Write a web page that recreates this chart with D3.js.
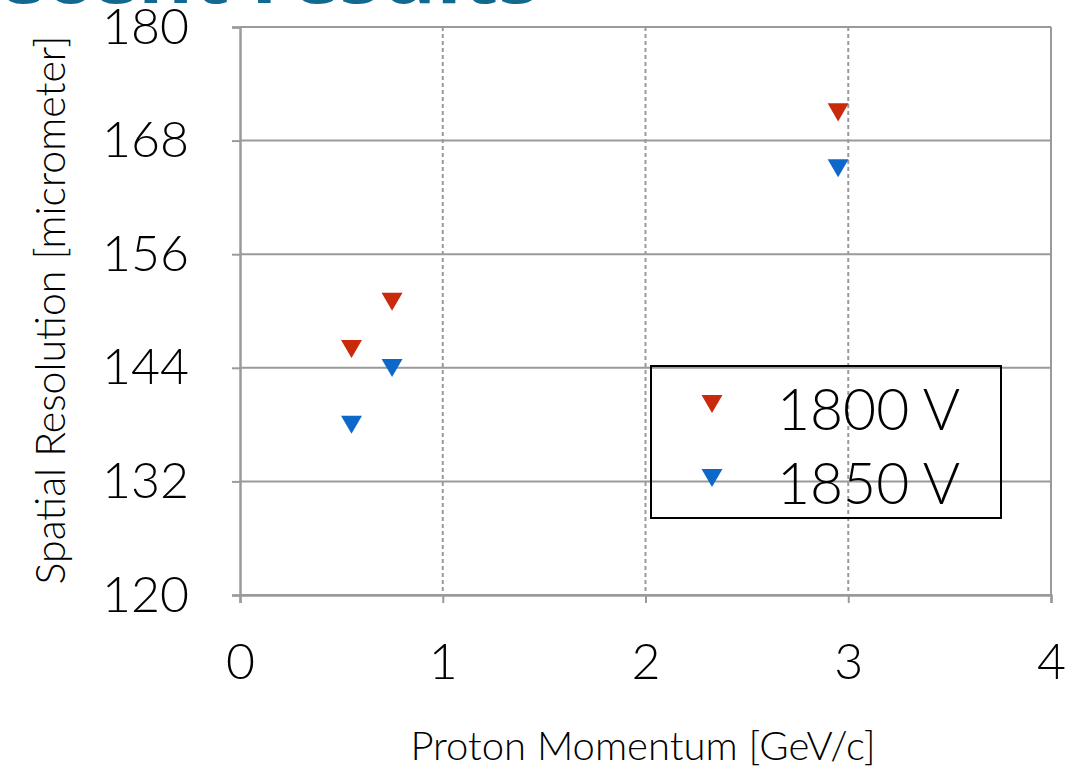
<!DOCTYPE html>
<html>
<head>
<meta charset="utf-8">
<script src="https://cdn.jsdelivr.net/npm/d3@7"></script>
<style>
  html, body { margin: 0; padding: 0; background: #fff; }
  svg { display: block; font-family: "Helvetica Neue", Lato, Roboto, sans-serif; font-weight: 300; }
</style>
</head>
<body>
<svg id="chart" width="1083" height="770"></svg>
<script>
// --- data ---
const momentum   = [0.55, 0.75, 2.95];
const res1800    = [146.3, 151.3, 171.3];
const res1850    = [138.3, 144.3, 165.4];
const seriesName = ['1800 V', '1850 V'];
const seriesCol  = ['#c92a0b', '#0e68c9'];
const xTicks     = [0, 1, 2, 3, 4];
const yTicks     = [120, 132, 144, 156, 168, 180];

const svg = d3.select('#chart');
const x = d3.scaleLinear().domain([0, 4]).range([240, 1051]);
const y = d3.scaleLinear().domain([120, 180]).range([595, 27]);

// cropped slide title
svg.append('text')
  .attr('x', 540).attr('y', 3)
  .attr('text-anchor', 'end')
  .style('font-family', '"Open Sans", Roboto, sans-serif')
  .style('font-weight', 700).style('font-size', '84px')
  .attr('fill', '#11698f')
  .text('Recent results');

const grid = svg.append('g');
// horizontal gridlines (solid)
grid.selectAll('line.h').data(yTicks).join('line')
  .attr('x1', x(0)).attr('x2', x(4))
  .attr('y1', d => y(d)).attr('y2', d => y(d))
  .attr('stroke', '#9a9a9a').attr('stroke-width', 2);
// vertical gridlines (dashed inner, solid right edge)
grid.selectAll('line.v').data(xTicks.slice(1)).join('line')
  .attr('x1', d => x(d)).attr('x2', d => x(d))
  .attr('y1', y(180)).attr('y2', y(120))
  .attr('stroke', '#9a9a9a').attr('stroke-width', 2)
  .attr('stroke-dasharray', d => d === 4 ? null : '4,3');

// axes
const yAxis = svg.append('g').attr('transform', `translate(${x(0)},0)`)
  .call(d3.axisLeft(y).tickValues(yTicks).tickSize(8).tickPadding(43));
const xAxis = svg.append('g').attr('transform', `translate(0,${y(120)})`)
  .call(d3.axisBottom(x).tickValues(xTicks).tickFormat(d3.format('d'))
    .tickSize(8).tickPadding(38));
[yAxis, xAxis].forEach(a => {
  a.select('.domain').attr('stroke', '#9a9a9a').attr('stroke-width', 2.5);
  a.selectAll('.tick line').attr('stroke', '#9a9a9a').attr('stroke-width', 2);
  a.selectAll('text').attr('fill', '#000')
    .style('font-family', '"Helvetica Neue", Lato, Roboto, sans-serif')
    .style('font-weight', 300).style('font-size', '50px');
});
xAxis.selectAll('text').attr('dy', '0.75em');

// axis titles
svg.append('text')
  .attr('x', 643).attr('y', 760).attr('text-anchor', 'middle')
  .style('font-size', '40px').text('Proton Momentum [GeV/c]');
svg.append('text')
  .attr('transform', 'translate(65,310) rotate(-90)')
  .attr('text-anchor', 'middle')
  .style('font-size', '41px').text('Spatial Resolution [micrometer]');

// markers
const tri = d3.symbol(d3.symbolTriangle, 190);
[res1800, res1850].forEach((vals, i) => {
  svg.append('g').selectAll('path').data(vals).join('path')
    .attr('d', tri)
    .attr('transform', (d, j) => `translate(${x(momentum[j])},${y(d)}) rotate(180)`)
    .attr('fill', seriesCol[i]);
});

// legend
const lg = svg.append('g');
lg.append('rect')
  .attr('x', 651).attr('y', 366).attr('width', 350).attr('height', 152)
  .attr('fill', 'none').attr('stroke', '#000').attr('stroke-width', 2);
seriesName.forEach((name, i) => {
  lg.append('path').attr('d', tri)
    .attr('transform', `translate(712,${401 + i * 74}) rotate(180)`)
    .attr('fill', seriesCol[i]);
  lg.append('text')
    .attr('x', 777).attr('y', 430 + i * 74)
    .style('font-size', '57px').attr('fill', '#000')
    .text(name);
});
</script>
</body>
</html>
